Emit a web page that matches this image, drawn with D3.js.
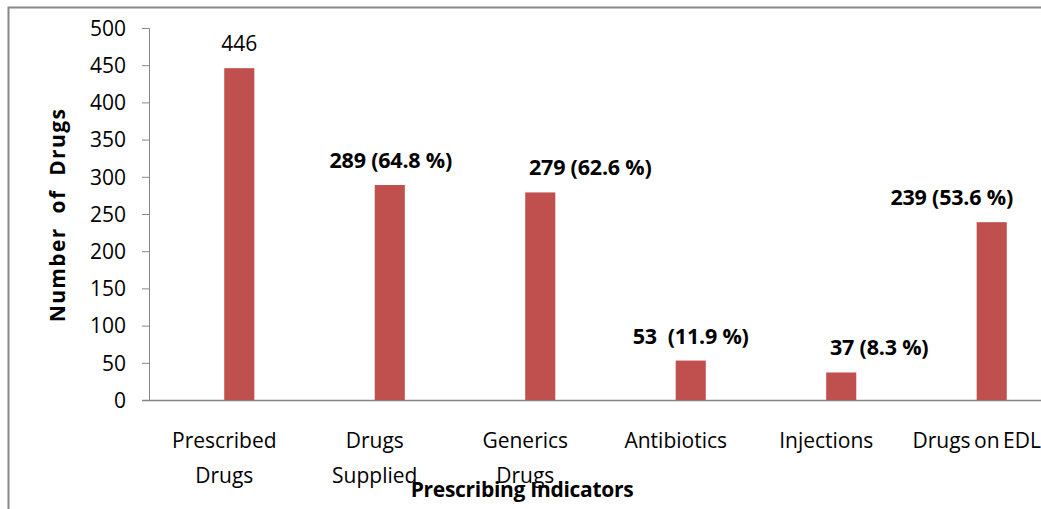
<!DOCTYPE html>
<html>
<head>
<meta charset="utf-8">
<script src="https://cdn.jsdelivr.net/npm/d3@7"></script>
<style>
  body { margin: 0; background: #fff; }
  text { font-family: "Open Sans", Lato, sans-serif; fill: #000; }
</style>
</head>
<body>
<div id="chart"></div>
<script>
// chart data
var categories = [["Prescribed", "Drugs"], ["Drugs", "Supplied"], ["Generics", "Drugs"], ["Antibiotics"], ["Injections"], ["Drugs on EDL"]];
var counts = [446, 289, 279, 53, 37, 239];
var valueLabels = ["446", "289 (64.8 %)", "279 (62.6 %)", "53  (11.9 %)", "37 (8.3 %)", "239 (53.6 %)"];
var yTicks = [0, 50, 100, 150, 200, 250, 300, 350, 400, 450, 500];

// label nudges (layout only)
var labelShift = [0, 1, 50, 0, 38, -40];

var svgWidth = 1041, svgHeight = 509;
var margin = {top: 28, left: 149, bottom: 109};
var plotWidth = 933; // runs past the right edge like the original
var chartHeight = svgHeight - margin.top - margin.bottom;

var svg = d3.select("#chart").append("svg")
    .attr("width", svgWidth)
    .attr("height", svgHeight);

// outer frame (only top and left visible)
svg.append("path")
    .attr("d", "M8.5,515 V7.5 H1045")
    .attr("fill", "none")
    .attr("stroke", "#888")
    .attr("stroke-width", 2);

var g = svg.append("g")
    .attr("transform", `translate(${margin.left}, ${margin.top})`);

var xScale = d3.scaleBand()
    .domain(d3.range(categories.length))
    .range([0, plotWidth])
    .paddingInner(0.8)
    .paddingOuter(0.5);

var yScale = d3.scaleLinear()
    .domain([0, 500])
    .range([chartHeight, 0]);

// y axis
var yAxis = g.append("g")
    .call(d3.axisLeft(yScale).tickValues(yTicks).tickSize(7).tickPadding(16));
yAxis.selectAll("line, path").attr("stroke", "#868686");
yAxis.select(".domain").attr("d", `M-7,0.5 H0.5 V${chartHeight}`);
yAxis.selectAll("text").attr("font-size", 21).attr("font-family", "Open Sans").attr("fill", "#000").attr("dy", "0.35em");

// x axis line
g.append("line")
    .attr("x1", -7).attr("x2", plotWidth)
    .attr("y1", chartHeight + 0.5).attr("y2", chartHeight + 0.5)
    .attr("stroke", "#868686")
    .attr("stroke-width", 1.5);

// bars
g.selectAll(".bar")
    .data(counts)
    .enter()
    .append("rect")
    .attr("class", "bar")
    .attr("x", (d, i) => xScale(i))
    .attr("width", xScale.bandwidth())
    .attr("y", d => yScale(d))
    .attr("height", d => chartHeight - yScale(d))
    .attr("fill", "#C0504D");

// value labels
g.selectAll(".val")
    .data(counts)
    .enter()
    .append("text")
    .attr("class", "val")
    .attr("x", (d, i) => xScale(i) + xScale.bandwidth() / 2 + labelShift[i])
    .attr("y", d => yScale(d) - 17)
    .attr("text-anchor", "middle")
    .attr("font-size", (d, i) => i == 0 ? 21 : 21.5)
    .attr("font-weight", (d, i) => i == 0 ? "normal" : "bold")
    .attr("letter-spacing", (d, i) => i == 0 ? 0 : -0.2)
    .style("white-space", "pre")
    .text((d, i) => valueLabels[i]);

// category labels
var cat = g.selectAll(".cat")
    .data(categories)
    .enter()
    .append("text")
    .attr("class", "cat")
    .attr("text-anchor", "middle")
    .attr("font-size", 21)
    .attr("word-spacing", -2)
    .attr("transform", (d, i) => `translate(${xScale(i) + xScale.bandwidth() / 2 - 15}, ${chartHeight + 48})`);

cat.selectAll("tspan")
    .data(d => d)
    .enter()
    .append("tspan")
    .attr("x", 0)
    .attr("dy", (d, j) => j == 0 ? 0 : 35)
    .text(d => d);

// axis titles
svg.append("text")
    .attr("x", 522)
    .attr("y", 497)
    .attr("text-anchor", "middle")
    .attr("font-size", 21)
    .attr("font-weight", "bold")
    .attr("letter-spacing", -0.3)
    .text("Prescribing Indicators");

svg.append("text")
    .attr("transform", "translate(65, 215) rotate(-90)")
    .attr("text-anchor", "middle")
    .attr("font-size", 21)
    .attr("font-weight", "bold")
    .attr("letter-spacing", 1.4)
    .style("white-space", "pre")
    .text("Number  of  Drugs");
</script>
</body>
</html>
